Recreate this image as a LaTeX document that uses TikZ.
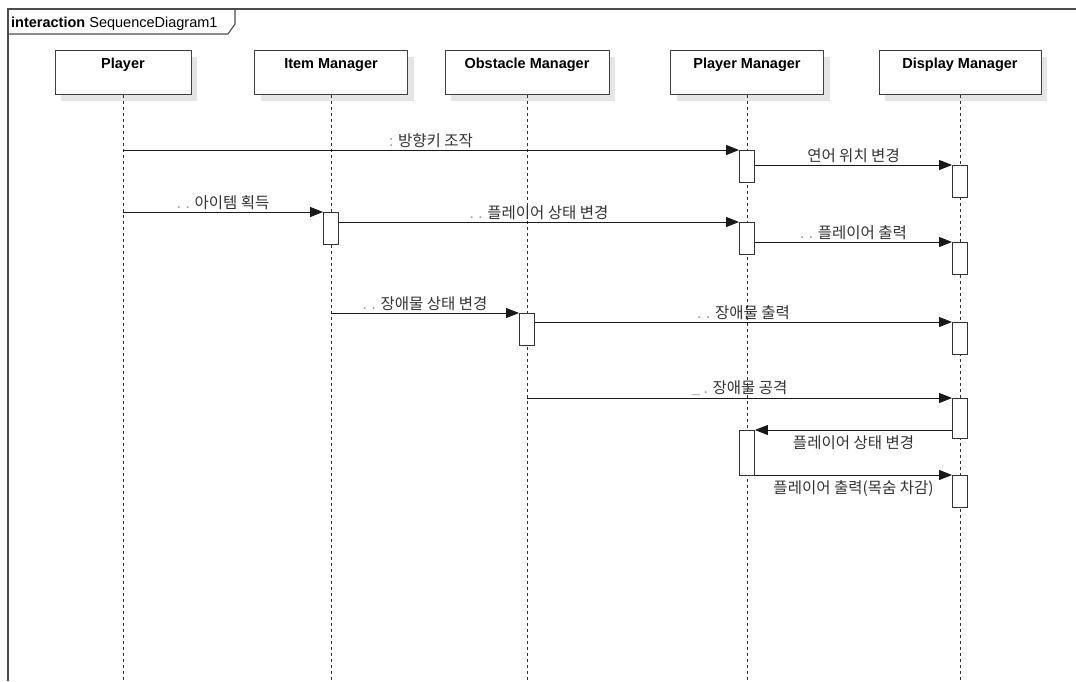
\documentclass[tikz,border=0pt]{standalone}
\usepackage{fontspec}
\setmainfont{Liberation Sans}
\newfontfamily\kr{Noto Sans CJK KR}
\usetikzlibrary{arrows.meta,shadows}

\tikzset{
  frameline/.style={draw=black!70, line width=1.1pt},
  lifebox/.style={draw=black!75, line width=1pt, fill=white, minimum width=#1,
    inner xsep=0pt, inner ysep=5pt, text height=13pt, text depth=21pt, anchor=north,
    font=\fontsize{14.5}{16}\selectfont\bfseries,
    drop shadow={shadow xshift=6pt, shadow yshift=-6pt, fill=black!10, opacity=1}},
  lifeline/.style={draw=black!80, line width=0.9pt, dash pattern=on 3pt off 3pt},
  act/.style={draw=black!80, fill=white, line width=0.9pt, minimum width=15pt,
    minimum height=#1, inner sep=0pt, anchor=north},
  msg/.style={draw=black!90, line width=0.9pt, -{Triangle[length=13pt,width=10pt]}},
  lbl/.style={font=\kr\fontsize{15.5}{17}\selectfont, text=black!80, inner sep=1.5pt}
}
\newcommand{\pre}[1]{{\color{black!35}#1}}

\begin{document}
\begin{tikzpicture}[x=1pt, y=-1pt]
  \useasboundingbox (0,0) rectangle (1076,681);
  \coordinate (bot) at (0,681);

  \draw[frameline] (8,681) -- (8,9) -- (1076,9);
  \draw[frameline] (8,34) -- (228,34) -- (235,24) -- (235,9);
  \node[anchor=base west, inner sep=0pt, font=\fontsize{14.5}{16}\selectfont] (title) at (11,27)
    {\textbf{interaction} SequenceDiagram1};

  \node[lifebox=136pt] (player) at (123,50) {Player};
  \node[lifebox=153pt] (item) at (331,50) {Item Manager};
  \node[lifebox=164pt] (obst) at (527,50) {Obstacle Manager};
  \node[lifebox=153pt] (pmgr) at (747,50) {Player Manager};
  \node[lifebox=162pt] (dmgr) at (960,50) {Display Manager};

  \draw[lifeline] (player.south) -- (player.south |- bot);
  \draw[lifeline] (item.south) -- (item.south |- bot);
  \draw[lifeline] (obst.south) -- (obst.south |- bot);
  \draw[lifeline] (pmgr.south) -- (pmgr.south |- bot);
  \draw[lifeline] (dmgr.south) -- (dmgr.south |- bot);

  \node[act=32pt] (pm1) at (747,150) {};
  \node[act=32pt] (dm1) at (960,165) {};
  \node[act=32pt] (im1) at (331,212) {};
  \node[act=32pt] (pm2) at (747,222) {};
  \node[act=32pt] (dm2) at (960,242) {};
  \node[act=32pt] (om1) at (527,313) {};
  \node[act=32pt] (dm3) at (960,322) {};
  \node[act=40pt] (dm4) at (960,398) {};
  \node[act=45pt] (pm3) at (747,430) {};
  \node[act=32pt] (dm5) at (960,475) {};

  \draw[msg] (player.south |- pm1.north) -- node[lbl, above] {\pre{:} 방향키 조작} (pm1.north west);
  \draw[msg] (pm1.east |- dm1.north) -- node[lbl, above] {연어 위치 변경} (dm1.north west);
  \draw[msg] (player.south |- im1.north) -- node[lbl, above] {\pre{. .} 아이템 획득} (im1.north west);
  \draw[msg] (im1.east |- pm2.north) -- node[lbl, above] {\pre{. .} 플레이어 상태 변경} (pm2.north west);
  \draw[msg] (pm2.east |- dm2.north) -- node[lbl, above] {\pre{. .} 플레이어 출력} (dm2.north west);
  \draw[msg] (item.south |- om1.north) -- node[lbl, above] {\pre{. .} 장애물 상태 변경} (om1.north west);
  \draw[msg] (om1.east |- dm3.north) -- node[lbl, above] {\pre{. .} 장애물 출력} (dm3.north west);
  \draw[msg] (obst.south |- dm4.north) -- node[lbl, above] {\pre{\_ .} 장애물 공격} (dm4.north west);
  \draw[msg] (dm4.west |- pm3.north) -- node[lbl, below=4pt] {플레이어 상태 변경} (pm3.north east);
  \draw[msg] (pm3.east |- dm5.north) -- node[lbl, below=4pt] {플레이어 출력(목숨 차감)} (dm5.north west);
\end{tikzpicture}
\end{document}
